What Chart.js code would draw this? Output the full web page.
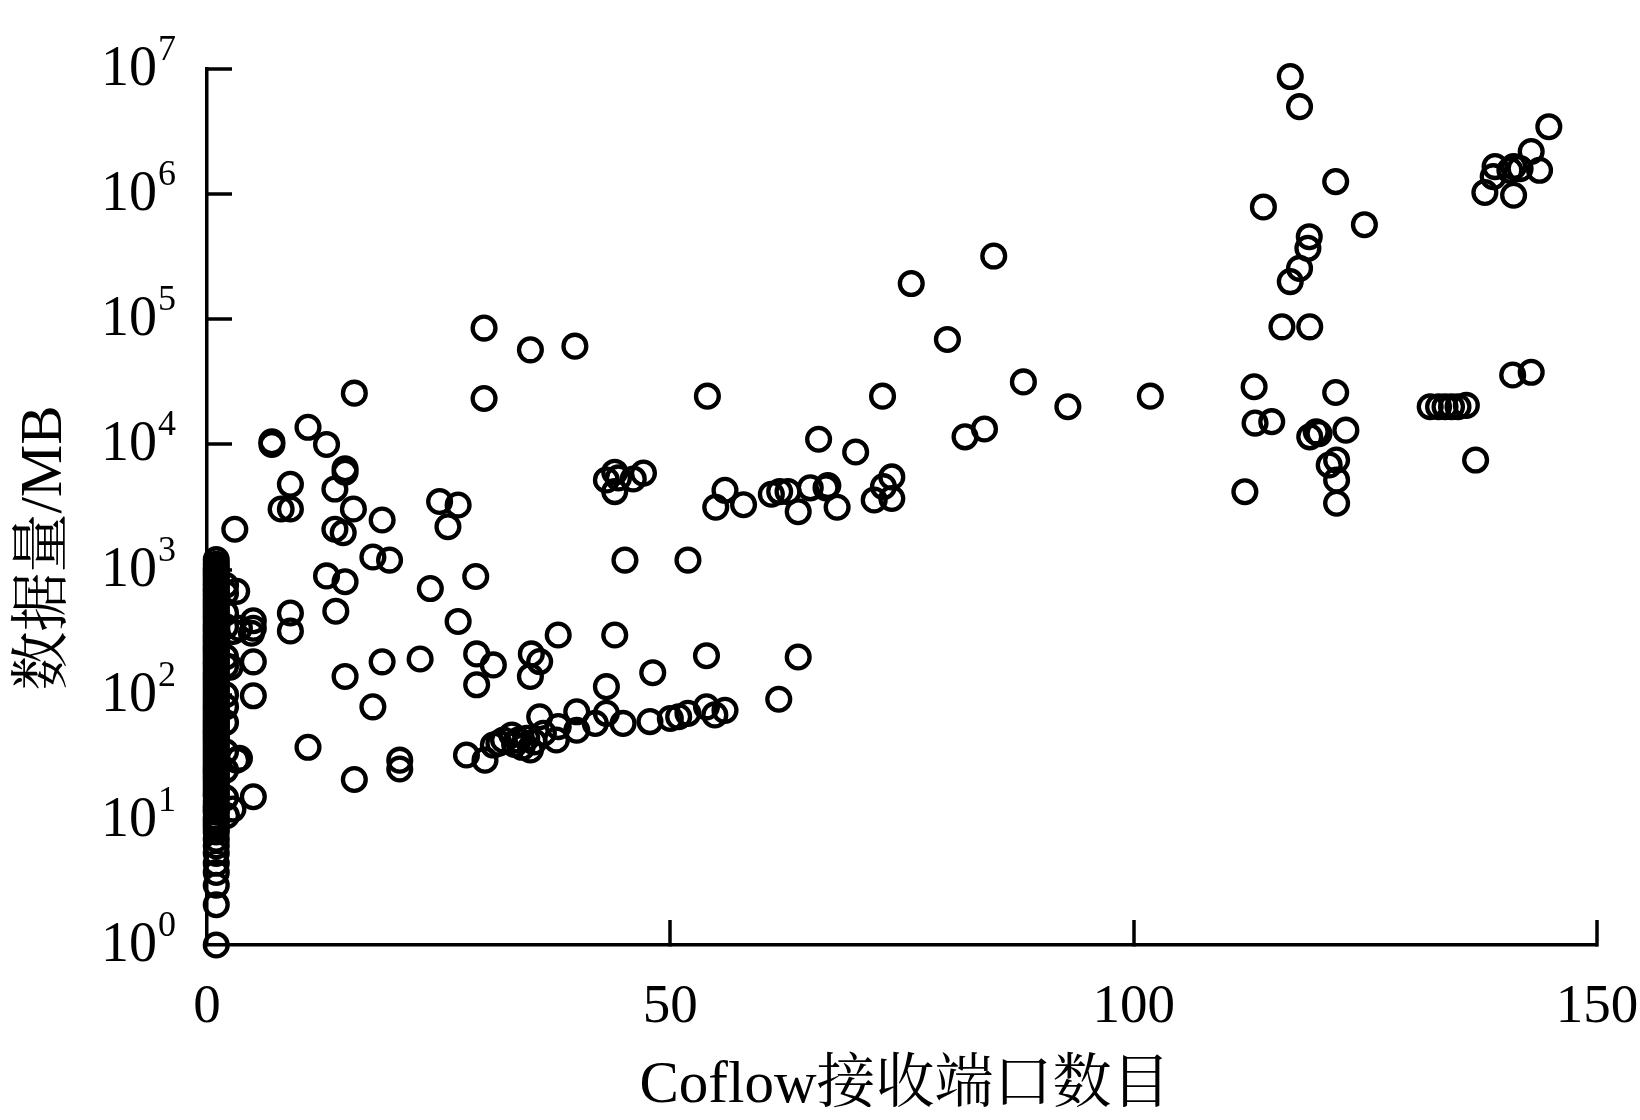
<!DOCTYPE html>
<html><head><meta charset="utf-8">
<script src="https://cdn.jsdelivr.net/npm/chart.js@4.4.1/dist/chart.umd.min.js"></script>
<style>html,body{margin:0;padding:0;background:#fff}canvas{display:block}</style>
</head><body>
<canvas id="c" width="1640" height="1120"></canvas>
<script>
// ---- Data ----
const xTitle = 'Coflow接收端口数目';
const yTitle = '数据量/MB';
const xTickValues = [0, 50, 100, 150];
const yTickExponents = [0, 1, 2, 3, 4, 5, 6, 7];

// Coflows with a single receiver port (dense column at x = 1)
const singlePortVolumes = [1, 2.1, 3.0, 3.8, 4.5, 5.4, 6.2, 7, 8, 8.5, 9, 9.5, 10, 10.5, 11.5, 12, 12.5, 13, 14, 15.5, 16, 17, 18, 19, 20, 21, 22, 23, 24, 25, 26, 27, 28.5, 30, 31.5, 33, 34.5, 36, 38, 40, 42, 44, 46, 48, 50, 52, 54.5, 57, 59.5, 62, 65, 68, 71.5, 75, 78.5, 82, 86, 90, 95, 100, 105, 110, 115, 120, 126, 132, 138, 145, 152, 160, 167, 175, 182, 190, 200, 210, 220, 230, 240, 250, 262, 275, 287, 300, 315, 330, 345, 360, 380, 400, 420, 440, 460, 480, 505, 530, 555, 580, 610, 640, 670, 700, 735, 770, 810, 850, 895, 940, 985, 1030, 1100, 1200];
// Coflows with two receiver ports
const twoPortVolumes = [15, 25, 35, 60, 80, 100, 170, 200, 350, 450, 650, 750];

// Other coflows: receiver port count and data volume (MB)
const ports = [
  116.9, 117.9, 144.8, 137.9, 139.0, 138.8, 141.0, 141.7, 141.0, 142.9, 143.8, 140.6,
  121.8, 114.0, 124.9, 118.95, 118.8, 117.9, 116.9, 116.0, 119.0,
  113.0, 121.8, 113.1, 114.9, 119.0, 119.7, 120.0, 122.9, 121.1, 121.9, 121.9, 121.9, 112.0,
  132.0, 132.9, 133.6, 134.3, 135.0, 135.9, 136.9, 140.9, 142.9,
  29.9, 29.9, 34.9, 39.7, 15.9, 54.0, 76.0, 84.9, 79.9, 72.9, 88.1, 92.9, 101.8, 81.8, 83.9, 66.0, 70.0,
  73.9, 73.0, 72.0, 73.9,
  43.1, 44.0, 44.4, 44.0, 46.0, 47.1,
  55.9, 54.9, 57.9, 60.9, 61.8, 62.7, 63.8, 65.1, 67.0, 66.8, 68.0,
  7.0, 7.0, 10.9, 12.9, 14.9, 14.9, 13.8, 9.0, 8.0, 9.0, 15.8, 18.9, 13.8, 14.7, 3.0, 17.9, 19.7, 12.9, 14.9,
  25.1, 27.1, 26.0, 45.1, 51.9, 29.0, 24.1, 27.1, 23.0, 37.9, 44.0, 29.1, 30.9, 29.1, 35.0, 35.9, 34.9, 53.9, 48.1, 63.8, 43.1, 61.7,
  3.2, 9.0, 9.0, 13.9, 5.0, 5.0, 4.8, 3.5, 5.0, 5.0, 18.9, 14.9, 17.9, 10.9, 15.9, 20.8, 20.8, 3.2, 3.5, 5.0, 2.8, 2.1, 2.8, 2.5,
  28.0, 30.0, 30.9, 32.0, 32.9, 33.6, 34.5, 34.9, 35.9, 36.3, 37.7, 37.9, 39.9, 39.9, 41.9, 43.1, 44.9, 47.8, 50.0, 50.9, 51.9, 53.9, 54.8, 55.9,
  31.5, 33.2, 34.0, 35.3
];
const volumes = [
  8.7e6, 5.0e6, 3.46e6, 1.03e6, 1.66e6, 1.38e6, 1.66e6, 1.6e6, 9.8e5, 2.19e6, 1.55e6, 1.55e6,
  1.26e6, 7.9e5, 5.7e5, 4.57e5, 3.69e5, 2.55e5, 2.0e5, 8.7e4, 8.7e4,
  2.89e4, 2.6e4, 1.48e4, 1.52e4, 1.15e4, 1.26e4, 1.22e4, 1.3e4, 6.85e3, 7.5e3, 5.2e3, 3.39e3, 4.19e3,
  2.0e4, 2.0e4, 2.0e4, 2.0e4, 2.0e4, 2.05e4, 7.5e3, 3.59e4, 3.77e4,
  8.5e4, 2.33e4, 5.7e4, 6.1e4, 2.57e4, 2.43e4, 1.93e5, 3.2e5, 6.9e4, 2.43e4, 3.16e4, 2.0e4, 2.43e4, 1.15e4, 1.33e4, 1.1e4, 8.7e3,
  5.5e3, 4.6e3, 3.6e3, 3.7e3,
  5.2e3, 6.0e3, 5.4e3, 4.2e3, 5.3e3, 5.9e3,
  4.3e3, 3.15e3, 3.3e3, 4.0e3, 4.2e3, 4.2e3, 2.9e3, 4.5e3, 4.7e3, 4.5e3, 3.15e3,
  1.0e4, 1.05e4, 1.37e4, 1.0e4, 6.4e3, 6.0e3, 4.4e3, 4.8e3, 3.05e3, 3.05e3, 3.05e3, 2.49e3, 2.1e3, 1.97e3, 2.1e3, 1.26e3, 1.19e3, 890, 800,
  3.5e3, 3.28e3, 2.2e3, 1.19e3, 1.19e3, 880, 705, 385, 193, 300, 300, 212, 173, 120, 212, 184, 140, 205, 150, 200, 116, 92,
  670, 450, 323, 465, 390, 340, 310, 340, 183, 98, 183, 140, 80, 38, 21, 30, 25.5, 30, 31, 15.3, 12.2, 10.8, 320, 166,
  33, 30, 39.6, 43.5, 47.7, 43.5, 44.9, 36.2, 66.7, 49.2, 43.5, 55.6, 73, 52, 59, 71, 59, 61, 64.6, 66.7, 71, 80, 69, 75,
  41, 40, 38, 42
];

// ---- Build points from the arrays ----
const points = [];
singlePortVolumes.forEach(v => points.push({x: 1, y: v}));
twoPortVolumes.forEach(v => points.push({x: 2, y: v}));
ports.forEach((p, i) => points.push({x: p, y: volumes[i]}));

const SERIF = "'Liberation Serif', 'Noto Serif CJK SC', 'Noto Sans CJK SC', serif";

const decorPlugin = {
  id: 'decor',
  afterDraw(chart) {
    const ctx = chart.ctx;
    const xs = chart.scales.x, ys = chart.scales.y;
    const area = chart.chartArea;
    ctx.save();
    ctx.strokeStyle = '#000';
    ctx.lineWidth = 3.5;
    ctx.lineCap = 'butt';
    // inward x ticks
    xTickValues.forEach(v => {
      if (v === 0) return;
      const px = Math.round(xs.getPixelForValue(v));
      ctx.beginPath();
      ctx.moveTo(px, area.bottom + 1.5);
      ctx.lineTo(px, area.bottom - 25);
      ctx.stroke();
    });
    // inward y ticks + labels
    yTickExponents.forEach(e => {
      const py = Math.round(ys.getPixelForValue(Math.pow(10, e)));
      if (e > 0) {
        ctx.beginPath();
        ctx.moveTo(area.left - 1.5, py);
        ctx.lineTo(area.left + 25, py);
        ctx.stroke();
      }
      ctx.fillStyle = '#000';
      ctx.font = '56px ' + SERIF;
      ctx.textAlign = 'right';
      ctx.textBaseline = 'alphabetic';
      ctx.fillText('10', 157, py + 16);
      ctx.font = '36px ' + SERIF;
      ctx.textAlign = 'left';
      ctx.fillText(String(e), 158, py - 9);
    });
    // axis titles
    ctx.fillStyle = '#000';
    ctx.font = '59px ' + SERIF;
    ctx.textAlign = 'center';
    ctx.textBaseline = 'middle';
    ctx.fillText(xTitle, 905, 1086);
    ctx.save();
    ctx.translate(45, 548);
    ctx.rotate(-Math.PI / 2);
    ctx.fillText(yTitle, 0, 0);
    ctx.restore();
    ctx.restore();
  }
};

new Chart(document.getElementById('c'), {
  type: 'scatter',
  data: {
    datasets: [{
      data: points,
      pointStyle: 'circle',
      radius: 11.4,
      pointRadius: 11.4,
      borderWidth: 4.3,
      pointBorderWidth: 4.3,
      borderColor: '#000',
      backgroundColor: 'rgba(0,0,0,0)',
      pointBackgroundColor: 'rgba(0,0,0,0)',
      pointBorderColor: '#000',
      clip: false
    }]
  },
  options: {
    responsive: false,
    animation: false,
    devicePixelRatio: 1,
    layout: { padding: { left: 0, right: 43, top: 69, bottom: 0 } },
    plugins: { legend: { display: false }, tooltip: { enabled: false } },
    scales: {
      x: {
        type: 'linear', min: 0, max: 150,
        afterBuildTicks: s => { s.ticks = xTickValues.map(v => ({ value: v })); },
        afterFit: s => { s.height = 175; s.paddingLeft = 0; s.paddingRight = 0; },
        grid: { display: false, drawTicks: false },
        border: { display: true, color: '#000', width: 3.5 },
        ticks: { color: '#000', padding: 30, maxRotation: 0, font: { family: SERIF, size: 55 } }
      },
      y: {
        type: 'logarithmic', min: 1, max: 1e7,
        afterFit: s => { s.width = 207; s.paddingTop = 0; s.paddingBottom = 0; },
        grid: { display: false, drawTicks: false },
        border: { display: true, color: '#000', width: 3.5 },
        ticks: { display: false }
      }
    }
  },
  plugins: [decorPlugin]
});
</script>
</body></html>
